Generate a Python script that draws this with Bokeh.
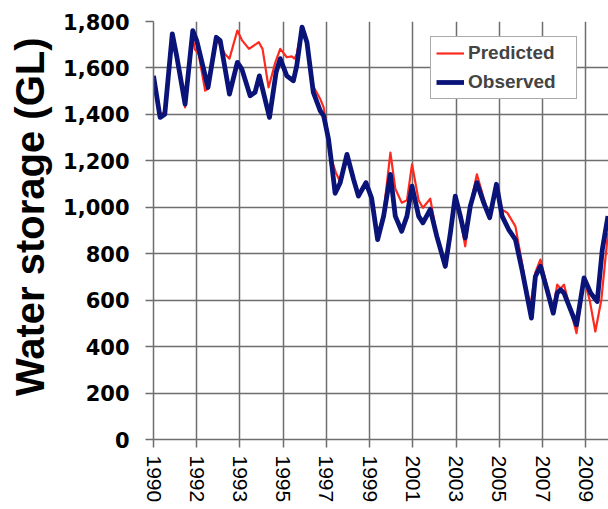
import math
from bokeh.plotting import figure
from bokeh.models import FixedTicker, NumeralTickFormatter, Legend, LegendItem, Range1d, Title
from bokeh.embed import file_html
from bokeh.resources import INLINE

# Storage series, x = months elapsed since February 1990
obs_month = [0, 3.5, 6, 10, 12.3, 16.8, 20.9, 23, 29, 33.4, 35.5, 40.4, 44.6, 47, 51.4, 54,
             56.3, 61.7, 65.2, 67.4, 70.9, 74.4, 76.2, 79, 81.6, 85, 88.7, 90.5, 93.1, 94.9,
             96.6, 99.3, 102.9, 106.4, 109, 113, 116, 119.2, 122.4, 126, 128.6, 132, 134.8,
             137.5, 141, 143.3, 147.2, 150.7, 155.2, 157.9, 160.5, 163.2, 165.8, 168.5, 172,
             175.6, 178.8, 182.4, 185.4, 188.9, 192.5, 196, 201, 203.1, 205.8, 209.3, 212.6,
             214.7, 216.5, 218.3, 225, 229, 232.5, 236, 238.7, 241.7]
observed = [1566, 1387, 1401, 1747, 1653, 1444, 1761, 1718, 1516, 1732, 1718, 1487, 1624, 1595,
            1480, 1495, 1566, 1387, 1581, 1640, 1566, 1545, 1610, 1776, 1711, 1495, 1415, 1394,
            1293, 1178, 1060, 1106, 1228, 1120, 1048, 1106, 1040, 861, 962, 1142, 962, 897, 962,
            1091, 962, 933, 991, 875, 746, 890, 1048, 962, 868, 1005, 1106, 1020, 955, 1099, 962,
            904, 861, 731, 523, 702, 746, 645, 544, 631, 645, 631, 494, 696, 631, 594, 818, 962]

pred_month = [0, 3.5, 6, 10, 12.3, 16.8, 20.9, 22, 24, 27.5, 29, 33.4, 35.5, 38, 40.4, 44.6, 47,
              50.8, 56, 58, 61.2, 64.8, 67.4, 70.9, 73.5, 75, 76.2, 79, 81.6, 85, 88.7, 90.5,
              93.1, 94.9, 97, 99.3, 102.9, 106.4, 109, 113, 116, 119.2, 122.4, 126, 128.6, 132,
              134.8, 137.5, 141, 143.3, 147.2, 150.7, 155.2, 157.9, 160.5, 163.2, 165.8, 168.5,
              172, 175.6, 178.8, 182.4, 185.4, 188.2, 192.5, 196, 200, 203.1, 205.8, 209.3,
              212.6, 214.7, 216.5, 218.3, 225, 229, 232, 235, 238.2, 241.7]
predicted = [1566, 1400, 1410, 1720, 1640, 1430, 1730, 1680, 1660, 1502, 1510, 1720, 1700, 1660,
             1640, 1761, 1720, 1682, 1711, 1682, 1516, 1624, 1682, 1646, 1650, 1640, 1660, 1776,
             1711, 1520, 1466, 1430, 1300, 1200, 1149, 1110, 1220, 1120, 1055, 1110, 1050, 870,
             980, 1235, 1080, 1020, 1030, 1185, 1030, 998, 1037, 880, 740, 880, 1040, 950, 832,
             1010, 1142, 1040, 960, 1095, 990, 976, 918, 760, 550, 720, 775, 660, 560, 667, 650,
             667, 458, 690, 600, 465, 602, 890]

year_labels = ["1990", "1992", "1993", "1995", "1997", "1999", "2001", "2003", "2005", "2007", "2009"]
MONTHS_PER_LABEL = 23
y_ticks = list(range(0, 1801, 200))

RED = "#ff2a1f"
NAVY = "#0a1478"
GRID = "#6e6e6e"

p = figure(width=608, height=509, output_backend="svg", toolbar_location=None,
           x_range=Range1d(0, 242), y_range=Range1d(0, 1800),
           min_border_left=153, min_border_right=0, min_border_top=21, min_border_bottom=70)
p.outline_line_color = None
p.background_fill_color = "white"
p.border_fill_color = "white"

r_pred = p.line(pred_month, predicted, line_color=RED, line_width=2.2, line_join="round")
r_obs = p.line(obs_month, observed, line_color=NAVY, line_width=4.8, line_join="round")

# axes
xt = [i * MONTHS_PER_LABEL for i in range(len(year_labels))]
p.xaxis.ticker = FixedTicker(ticks=xt)
p.xaxis.major_label_overrides = {t: lab for t, lab in zip(xt, year_labels)}
p.xaxis.major_label_orientation = -math.pi / 2
p.xaxis.major_label_text_font = "Liberation Sans"
p.xaxis.major_label_text_font_size = "21px"
p.xaxis.major_label_text_color = "black"
p.xaxis.major_label_standoff = 8

p.yaxis.ticker = FixedTicker(ticks=y_ticks)
p.yaxis.formatter = NumeralTickFormatter(format="0,0")
p.yaxis.major_label_text_font = "DejaVu Sans"
p.yaxis.major_label_text_font_style = "bold"
p.yaxis.major_label_text_font_size = "21px"
p.yaxis.major_label_text_color = "black"
p.yaxis.major_label_standoff = 16

for ax in (p.xaxis, p.yaxis):
    ax.axis_line_color = GRID
    ax.axis_line_width = 1.5
    ax.major_tick_line_color = GRID
    ax.major_tick_line_width = 1.5
    ax.major_tick_out = 8
    ax.major_tick_in = 0
    ax.minor_tick_line_color = None

p.xgrid.grid_line_color = GRID
p.xgrid.grid_line_width = 1.5
p.ygrid.grid_line_color = GRID
p.ygrid.grid_line_width = 1.5

# vertical axis title, anchored near the top of the plot area
p.add_layout(Title(text="Water storage (GL)", align="right", offset=16, standoff=14,
                   vertical_align="top",
                   text_font="Liberation Sans", text_font_style="bold",
                   text_font_size="40px", text_color="black"), "left")

legend = Legend(items=[LegendItem(label="Predicted", renderers=[r_pred]),
                       LegendItem(label="Observed", renderers=[r_obs])],
                location=(277, 340), padding=5, spacing=7,
                label_text_font="Liberation Sans", label_text_font_style="bold",
                label_text_font_size="19px", label_height=18, label_width=103,
                glyph_width=28, glyph_height=18, label_standoff=4,
                border_line_color="#555555", border_line_width=1.2,
                background_fill_color="white", background_fill_alpha=1.0, margin=0)
p.add_layout(legend)

open("out.html", "w").write(file_html(p, INLINE))
